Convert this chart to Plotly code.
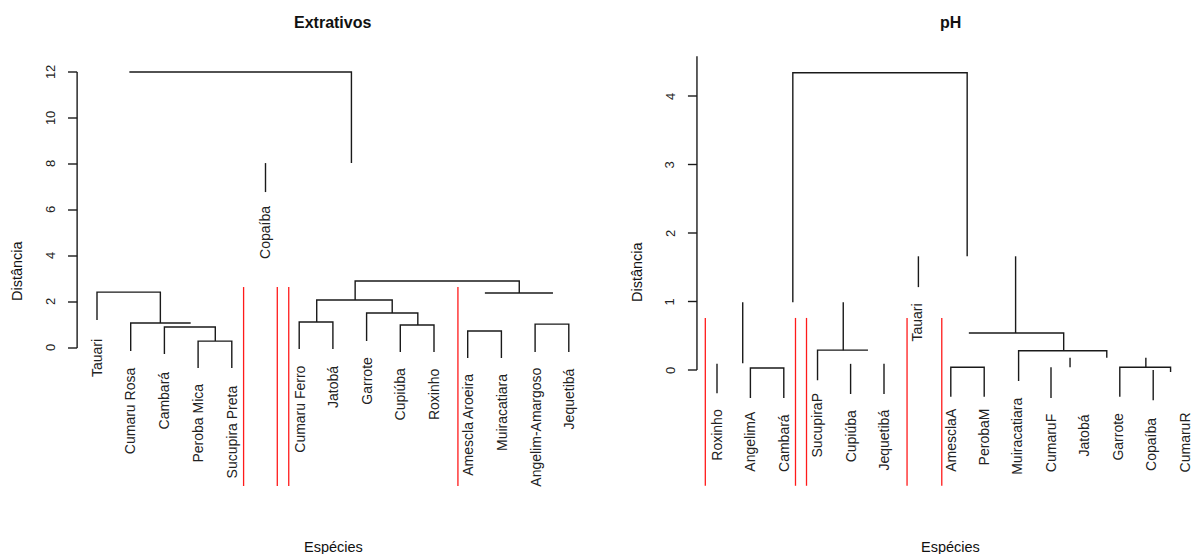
import plotly.graph_objects as go

W, H = 1192, 554

# ---------------- Panel 1: Extrativos ----------------
ext_leaves = ["Tauari", "Cumaru Rosa", "Cambará", "Peroba Mica", "Sucupira Preta",
              "Copaíba", "Cumaru Ferro", "Jatobá", "Garrote", "Cupiúba", "Roxinho",
              "Amescla Aroeira", "Muiracatiara", "Angelim-Amargoso", "Jequetibá"]
ext_leaf_x = [1, 2, 3, 4, 5, 6, 7, 8, 9, 10, 11, 12, 13, 14, 15]
ext_label_top = [0.43, -0.78, -0.96, -1.52, -1.57, 6.22, -0.74, -0.74, -0.35,
                 -0.83, -0.83, -1.09, -1.09, -0.83, -0.83]
# merges: left x, right x, height, bottom of left leg, bottom of right leg (None = no leg)
ext_m_xl = [1.96, 1, 2, 3, 4, 8.66, 7.52, 7, 9.0, 10, 12.51, 12, 14]
ext_m_xr = [8.55, 2.88, 3.78, 4.51, 5, 13.53, 9.76, 8, 10.52, 11, 14.53, 13, 15]
ext_m_h = [12.0, 2.43, 1.09, 0.91, 0.30, 2.91, 2.09, 1.13, 1.52, 1.0, 2.39, 0.74, 1.04]
ext_m_lb = [None, 1.22, -0.13, -0.26, -0.87, 2.09, 1.13, -0.04, 0.30, -0.17, None, -0.43, -0.17]
ext_m_rb = [8.04, 1.09, None, 0.30, -0.87, 2.39, 1.52, -0.04, 1.0, -0.17, None, -0.43, -0.17]
# lone stems: x, top, bottom
ext_s_x = [6]
ext_s_top = [8.04]
ext_s_bot = [6.78]
ext_cut_x = [5.35, 6.35, 6.69, 11.71]
ext_cut_top, ext_cut_bot = 2.65, -6.0
ext_ticks = [0, 2, 4, 6, 8, 10, 12]
ext_tick_text = ["0", "2", "4", "6", "8", "10", "12"]
ext_axis_x = 0.41
ext_axis_span = [0, 12]

# ---------------- Panel 2: pH ----------------
ph_leaves = ["Roxinho", "AngelimA", "Cambará", "SucupiraP", "Cupiúba", "Jequetibá",
             "Tauari", "AmesclaA", "PerobaM", "Muiracatiara", "CumaruF", "Jatobá",
             "Garrote", "Copaíba", "CumaruR"]
ph_leaf_x = [1, 2, 3, 4, 5, 6, 7, 8, 9, 10, 11, 12, 13, 14, 15]
ph_label_top = [-0.55, -0.58, -0.63, -0.32, -0.58, -0.57, 0.99, -0.54, -0.55,
                -0.39, -0.63, -0.63, -0.61, -0.69, -0.61]
ph_m_xl = [3.27, 2, 4.01, 8, 8.54, 10.03, 13.06]
ph_m_xr = [8.49, 3, 5.52, 9, 11.38, 12.67, 14.58]
ph_m_h = [4.34, 0.03, 0.29, 0.04, 0.54, 0.28, 0.04]
ph_m_lb = [0.99, -0.41, -0.15, -0.39, None, -0.16, -0.39]
ph_m_rb = [1.66, -0.41, None, -0.39, 0.28, 0.18, -0.03]
ph_s_x = [1, 1.77, 4.78, 5, 6, 7.03, 9.94, 11, 11.57, 13.84, 14.06]
ph_s_top = [0.09, 0.99, 0.99, 0.09, 0.09, 1.66, 1.66, 0.04, 0.18, 0.18, 0.0]
ph_s_bot = [-0.34, 0.10, 0.29, -0.35, -0.35, 1.21, 0.54, -0.41, 0.04, 0.04, -0.44]
ph_cut_x = [0.65, 3.35, 3.68, 6.69, 7.73]
ph_cut_top, ph_cut_bot = 0.76, -1.69
ph_ticks = [0, 1, 2, 3, 4]
ph_tick_text = ["0", "1", "2", "3", "4"]
ph_axis_x = 0.40
ph_axis_span = [0, 4.58]

LINE = "#1a1a1a"
RED = "#ff1a1a"
FONT = "Liberation Sans, Arial, sans-serif"

# pixel layout of each panel's scales
EXT_X0, EXT_DX = 97, 33.7      # px of leaf 1, px per leaf
EXT_Y0, EXT_DY = 348, 23.0     # px of distance 0, px per unit
PH_X0, PH_DX = 717, 33.4
PH_Y0, PH_DY = 370, 68.5

fig = go.Figure()


def seg_xy(m_xl, m_xr, m_h, m_lb, m_rb, s_x, s_top, s_bot):
    xs, ys = [], []
    for xl, xr, h, lb, rb in zip(m_xl, m_xr, m_h, m_lb, m_rb):
        px, py = [], []
        if lb is not None:
            px += [xl]; py += [lb]
        px += [xl, xr]; py += [h, h]
        if rb is not None:
            px += [xr]; py += [rb]
        xs += px + [None]; ys += py + [None]
    for x, t, b in zip(s_x, s_top, s_bot):
        xs += [x, x, None]; ys += [t, b, None]
    return xs, ys


def cut_xy(cx, top, bot):
    xs, ys = [], []
    for x in cx:
        xs += [x, x, None]; ys += [top, bot, None]
    return xs, ys


def axis_xy(ax, span, ticks, tlen):
    xs = [ax, ax, None]; ys = [span[0], span[1], None]
    for t in ticks:
        xs += [ax, ax - tlen, None]; ys += [t, t, None]
    return xs, ys


panels = [
    dict(xa="x", ya="y", leaves=ext_leaves, lx=ext_leaf_x, ltop=ext_label_top,
         m=(ext_m_xl, ext_m_xr, ext_m_h, ext_m_lb, ext_m_rb, ext_s_x, ext_s_top, ext_s_bot),
         cut=(ext_cut_x, ext_cut_top, ext_cut_bot), ticks=ext_ticks, ttext=ext_tick_text,
         ax=ext_axis_x, span=ext_axis_span, tlen=0.27),
    dict(xa="x2", ya="y2", leaves=ph_leaves, lx=ph_leaf_x, ltop=ph_label_top,
         m=(ph_m_xl, ph_m_xr, ph_m_h, ph_m_lb, ph_m_rb, ph_s_x, ph_s_top, ph_s_bot),
         cut=(ph_cut_x, ph_cut_top, ph_cut_bot), ticks=ph_ticks, ttext=ph_tick_text,
         ax=ph_axis_x, span=ph_axis_span, tlen=0.27),
]

annotations = []
for p in panels:
    xs, ys = seg_xy(*p["m"])
    fig.add_trace(go.Scatter(x=xs, y=ys, mode="lines", xaxis=p["xa"], yaxis=p["ya"],
                             line=dict(color=LINE, width=1.4), hoverinfo="skip", showlegend=False))
    cx, cy = cut_xy(*p["cut"])
    fig.add_trace(go.Scatter(x=cx, y=cy, mode="lines", xaxis=p["xa"], yaxis=p["ya"],
                             line=dict(color=RED, width=1.3), hoverinfo="skip", showlegend=False))
    axx, axy = axis_xy(p["ax"], p["span"], p["ticks"], p["tlen"])
    fig.add_trace(go.Scatter(x=axx, y=axy, mode="lines", xaxis=p["xa"], yaxis=p["ya"],
                             line=dict(color=LINE, width=1.4), hoverinfo="skip", showlegend=False))
    for name, x, top in zip(p["leaves"], p["lx"], p["ltop"]):
        annotations.append(dict(x=x, y=top, xref=p["xa"], yref=p["ya"], text=name,
                                textangle=-90, xanchor="center", yanchor="top",
                                showarrow=False, borderpad=0,
                                font=dict(family=FONT, size=14, color="#222")))
    for t, tt in zip(p["ticks"], p["ttext"]):
        annotations.append(dict(x=p["ax"], y=t, xref=p["xa"], yref=p["ya"], text=tt,
                                textangle=-90, xanchor="center", yanchor="middle",
                                xshift=-27, showarrow=False, borderpad=0,
                                font=dict(family=FONT, size=13, color="#222")))


def P(px, py):
    return px / W, 1 - py / H


texts = [
    ("<b>Extrativos</b>", 332, 22, 0, 16),
    ("<b>pH</b>", 950, 22, 0, 16),
    ("Distância", 17, 271, -90, 14.5),
    ("Distância", 637, 272, -90, 14.5),
    ("Espécies", 333, 547, 0, 14.5),
    ("Espécies", 951, 547, 0, 14.5),
]
for t, px, py, ang, sz in texts:
    x, y = P(px, py)
    annotations.append(dict(x=x, y=y, xref="paper", yref="paper", text=t, textangle=ang,
                            xanchor="center", yanchor="middle", showarrow=False,
                            font=dict(family=FONT, size=sz, color="#111")))

noax = dict(visible=False, fixedrange=True)
fig.update_layout(
    width=W, height=H, autosize=False,
    margin=dict(l=0, r=0, t=0, b=0),
    paper_bgcolor="white", plot_bgcolor="white",
    xaxis=dict(domain=[0, 596 / W],
               range=[1 - EXT_X0 / EXT_DX, 1 + (596 - EXT_X0) / EXT_DX], **noax),
    yaxis=dict(domain=[0, 1], range=[(EXT_Y0 - H) / EXT_DY, EXT_Y0 / EXT_DY], **noax),
    xaxis2=dict(domain=[596 / W, 1],
                range=[1 + (596 - PH_X0) / PH_DX, 1 + (W - PH_X0) / PH_DX], anchor="y2", **noax),
    yaxis2=dict(domain=[0, 1], range=[(PH_Y0 - H) / PH_DY, PH_Y0 / PH_DY], anchor="x2", **noax),
    annotations=annotations,
)
fig.write_html("out.html")
